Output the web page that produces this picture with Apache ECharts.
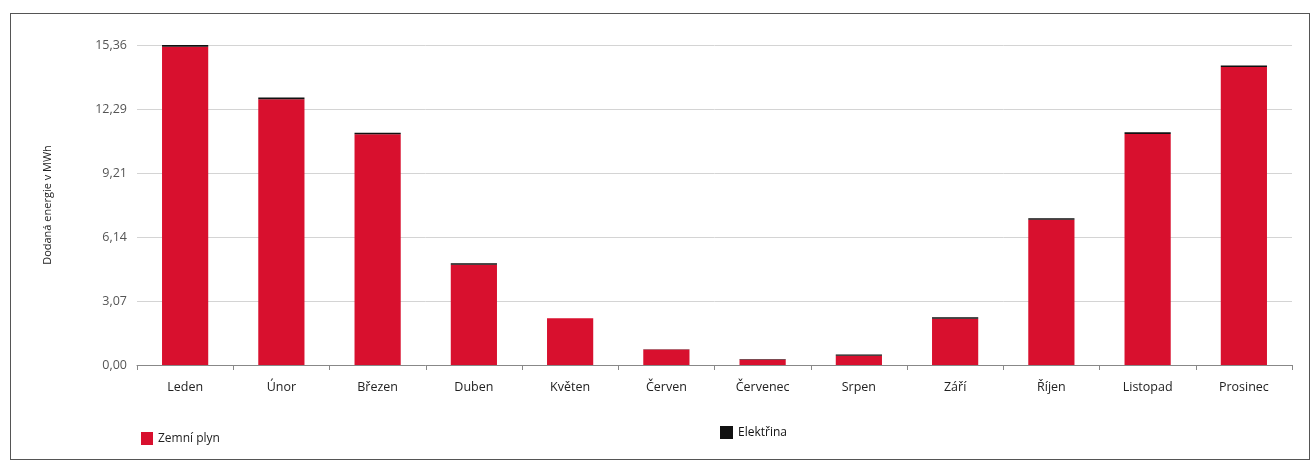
<!DOCTYPE html>
<html>
<head>
<meta charset="utf-8">
<script src="https://cdn.jsdelivr.net/npm/echarts@6/dist/echarts.min.js"></script>
<style>
html,body{margin:0;padding:0;background:#fff;}
#frame{position:absolute;left:10px;top:13px;width:1300px;height:447px;border:1.5px solid #555;box-sizing:border-box;}
#chart{position:absolute;left:0;top:0;width:1314px;height:466px;}
</style>
</head>
<body>
<div id="frame"></div>
<div id="chart"></div>
<script>
const categories = ['Leden','Únor','Březen','Duben','Květen','Červen','Červenec','Srpen','Září','Říjen','Listopad','Prosinec'];
const gasValues = [15.28, 12.76, 11.08, 4.81, 2.25, 0.74, 0.27, 0.44, 2.22, 6.97, 11.09, 14.30];
const elecValues = [0.08, 0.08, 0.07, 0.07, 0.00, 0.02, 0.02, 0.06, 0.07, 0.08, 0.08, 0.08];
const tickLabels = ['0,00','3,07','6,14','9,21','12,29','15,36'];
const yMax = 15.36;
const yInterval = 3.072;

const chart = echarts.init(document.getElementById('chart'), null, {renderer:'canvas'});
const font = '"Open Sans", "DejaVu Sans", sans-serif';
chart.setOption({
  animation:false,
  backgroundColor:'transparent',
  grid:{left:137, right:22, top:45, bottom:101},
  legend:[
    {data:['Zemní plyn'], left:136, top:427, itemWidth:12, itemHeight:13, itemGap:5, icon:'rect',
     textStyle:{fontFamily:font, fontSize:12, color:'#222'}},
    {data:['Elektřina'], left:715, top:421, itemWidth:13, itemHeight:13, icon:'rect',
     textStyle:{fontFamily:font, fontSize:12, color:'#111'}}
  ],
  xAxis:{
    type:'category', data:categories,
    axisLine:{lineStyle:{color:'#888', width:1}},
    axisTick:{show:true, length:5, lineStyle:{color:'#888'}},
    axisLabel:{fontFamily:font, fontSize:12.5, color:'#222', margin:16}
  },
  yAxis:{
    type:'value', min:0, max:yMax, interval:yInterval,
    name:'Dodaná energie v MWh', nameLocation:'middle', nameGap:84, nameRotate:90,
    nameTextStyle:{fontFamily:font, fontSize:11, color:'#222'},
    axisLine:{show:false}, axisTick:{show:false},
    axisLabel:{fontFamily:font, fontSize:12.5, color:'#555', margin:10,
      formatter:function(v){ const i = Math.round(v / yInterval); return tickLabels[i] !== undefined ? tickLabels[i] : ''; }},
    splitLine:{lineStyle:{color:'#d4d4d4', width:1}}
  },
  series:[
    {name:'Zemní plyn', type:'bar', stack:'e', data:gasValues, barWidth:'48%',
     itemStyle:{color:'#d8102e'}},
    {name:'Elektřina', type:'bar', stack:'e', data:elecValues, barWidth:'48%',
     itemStyle:{color:'#111'}}
  ]
});
</script>
</body>
</html>
